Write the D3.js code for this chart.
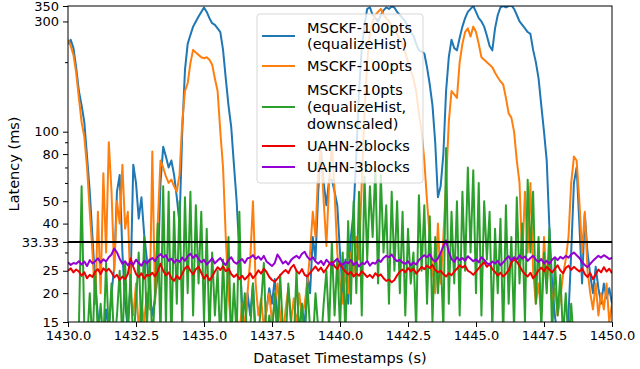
<!DOCTYPE html>
<html><head><meta charset="utf-8">
<script src="https://cdn.jsdelivr.net/npm/d3@7"></script>
<style>body{margin:0;background:#fff}svg{display:block}text{font-family:"DejaVu Sans",sans-serif;fill:#000}</style>
</head><body><svg id="c" width="640" height="369"></svg>
<script>
// sample timing (s)
const tStart = 1430, tStep = 0.1;
const blueVals = [
240,250,230,190,150,130,110,78,55,35,
22,16,13,12,17,14,20,26,55,65,
30,18,14,22,72,60,42,52,36,28,
20,16,19,24,60,86,78,70,75,65,
52,40,100,185,240,262,285,300,315,330,
345,330,310,295,290,280,270,226,170,130,
105,72,50,30,18,13,20,16,22,13,
12,12,14,17,21,18,23,16,12,13,
15,12,14,12,16,13,18,14,24,20,
35,28,55,84,60,48,62,62,55,48,
30,20,28,18,35,45,80,150,230,290,
340,345,320,310,300,320,335,345,340,348,
345,330,320,310,300,285,270,260,240,225,
222,218,190,160,130,90,52,58,80,150,
210,250,230,225,255,285,310,330,340,350,
330,310,300,285,260,235,225,280,320,345,
350,345,350,352,340,320,300,290,280,270,
265,226,200,170,130,100,75,38,22,16,
13,14,13,12,16,30,60,70,40,22,
44,30,24,20,26,21,18,22,19,21,
18];
const orangeVals = [
250,235,215,180,140,110,95,70,45,30,
18,45,20,66,30,90,55,25,50,40,
72,38,45,20,16,22,14,18,15,20,
17,82,18,40,75,70,64,60,62,58,
55,65,110,150,162,198,226,220,215,210,
208,210,205,195,170,150,100,70,35,20,
14,12,16,13,18,14,20,28,50,22,
16,19,14,17,20,15,18,22,16,13,
17,21,15,19,14,20,16,18,22,30,
45,35,70,84,50,32,60,90,55,30,
22,18,25,20,30,24,35,28,60,120,
200,270,300,320,330,340,320,310,300,290,
280,265,250,240,220,200,185,170,150,120,
100,75,50,35,25,20,40,22,35,60,
110,150,145,140,200,240,270,280,258,285,
270,240,210,205,200,195,190,180,172,165,
160,140,120,115,100,75,60,28,55,30,
60,25,18,22,16,35,22,30,18,21,
16,19,24,28,35,60,78,75,50,30,
45,25,20,17,22,16,20,17,22,15,
18];
const greenVals = [
12,12,12,12,14,58,14,12,20,12,
25,13,18,12,27,13,22,12,16,25,
12,27,14,24,12,18,30,13,35,14,
28,12,20,40,13,58,15,55,12,45,
18,50,14,52,20,55,16,48,22,45,
15,38,13,30,16,25,12,28,14,35,
12,22,13,45,14,20,12,14,22,12,
13,18,27,12,16,13,20,12,24,14,
12,22,15,12,25,13,18,12,22,14,
12,20,14,12,18,25,14,33,16,28,
14,30,13,41,18,50,20,55,16,64,
28,58,35,70,22,65,30,48,18,55,
25,50,20,45,16,38,22,30,14,53,
25,48,18,43,15,35,20,30,14,85,
18,45,22,50,16,55,25,70,30,68,
20,60,16,50,28,45,14,38,20,42,
13,48,18,35,14,52,22,40,15,62,
30,55,18,35,14,30,20,38,13,28,
16,24,13,20,12,18,12,12,12,12,
12,12,12,12,12,12,12,12,12,12,
12];
const redVals = [
25.0,25.6,24.6,25.3,24.8,23.8,24.6,23.2,24.0,23.5,
24.8,25.4,24.2,25.6,24.9,25.5,24.6,23.4,24.0,22.8,
23.6,23.0,24.2,28.3,26.0,24.2,23.5,24.4,23.1,24.0,
23.8,24.5,23.6,24.9,26.8,25.0,23.9,24.6,23.2,22.6,
23.8,23.0,24.3,25.6,26.2,25.0,24.1,25.4,26.0,24.5,
23.1,24.0,22.7,23.6,24.8,25.9,25.2,26.1,24.9,25.5,
24.2,23.5,24.1,23.0,23.8,22.9,23.6,24.4,23.2,24.0,
25.1,24.3,25.5,24.7,23.5,22.8,22.4,23.1,23.9,24.6,
25.2,24.4,25.8,26.5,25.0,24.3,25.4,24.0,23.6,24.5,
25.3,26.1,25.0,25.8,24.6,25.5,26.6,27.3,26.2,25.4,
26.9,25.6,24.8,24.1,24.7,23.6,24.3,23.8,24.9,24.2,
23.5,24.0,23.3,24.4,23.7,24.1,23.2,22.6,22.9,22.3,
22.8,23.9,24.8,25.3,24.6,25.7,24.9,25.5,24.3,25.1,
26.0,25.4,26.3,25.7,26.5,25.2,24.6,25.0,24.2,23.6,
24.4,23.9,24.8,25.5,26.4,25.8,26.3,25.0,24.6,24.0,
24.8,25.6,26.5,27.2,26.0,26.8,25.4,24.7,23.8,24.5,
23.6,24.3,25.1,27.1,28.0,27.4,26.2,25.0,24.2,23.6,
24.5,23.2,24.0,25.1,25.8,24.9,26.0,25.3,24.6,25.5,
26.4,25.1,24.4,25.7,26.3,25.2,26.0,25.4,24.8,25.6,
24.2,23.5,24.4,23.0,24.1,25.3,24.6,25.9,24.8,25.5,
24.4];
const purpleVals = [
27.2,26.5,27.0,26.8,27.5,26.6,27.4,26.2,27.8,26.9,
27.5,28.3,27.1,28.0,27.4,28.6,29.4,31.2,30.0,28.2,
26.8,27.5,26.4,27.2,26.6,27.9,27.0,26.3,27.6,26.9,
27.8,28.4,27.5,28.8,29.5,28.6,29.2,27.6,28.2,27.1,
27.9,27.3,28.5,27.6,28.9,29.6,28.4,29.3,28.1,27.2,
27.9,26.6,27.4,28.3,26.9,27.7,28.4,27.2,26.5,27.8,
28.6,27.3,26.8,27.5,28.1,27.0,28.3,28.5,29.2,28.1,
28.8,27.9,29.0,27.4,26.8,26.2,27.0,29.4,28.2,26.9,
27.5,26.6,27.8,28.5,29.0,28.3,29.6,30.2,28.7,27.9,
28.6,27.4,26.8,27.6,26.5,27.9,27.1,26.4,27.5,28.2,
27.0,26.6,27.3,26.9,27.8,26.5,27.2,26.1,27.0,26.7,
27.6,26.3,27.1,26.8,27.9,27.3,28.4,29.0,28.6,29.4,
28.2,27.5,27.9,27.1,26.8,27.5,26.4,27.2,26.6,27.8,
28.5,29.2,28.6,29.5,28.0,27.4,28.3,29.8,32.0,33.8,
30.2,28.1,27.3,28.6,27.8,28.4,27.6,28.9,28.2,27.5,
28.0,27.2,28.6,27.9,27.0,26.6,27.4,26.9,27.6,26.4,
27.2,28.1,28.9,27.7,28.6,28.0,29.1,28.3,28.8,27.6,
28.4,29.0,27.9,27.3,28.1,26.9,27.6,26.8,27.9,28.6,
27.8,28.7,28.2,29.0,28.5,29.4,30.0,29.2,28.4,27.2,
26.5,25.9,26.8,27.6,28.3,29.0,28.5,29.2,28.7,28.1,
28.4];
const seriesLabels = [
  ["MSCKF-100pts","(equalizeHist)"],
  ["MSCKF-100pts"],
  ["MSCKF-10pts","(equalizeHist,","downscaled)"],
  ["UAHN-2blocks"],
  ["UAHN-3blocks"]
];
const seriesColors = ["#1f77b4","#ff7f0e","#2ca02c","#ee0000","#9400d3"];
const realTimeLine = 33.33;
const xTicks = [1430,1432.5,1435,1437.5,1440,1442.5,1445,1447.5,1450];
const yTicks = [15,20,25,33.33,40,50,80,100,300,350];
const yMinorTicks = [30,60,70,90,200];

const allSeries = [blueVals, orangeVals, greenVals, redVals, purpleVals];
const svg = d3.select("#c");
const L = 68, R = 612, T = 6, B = 322;
const x = d3.scaleLinear().domain([1430,1450]).range([L,R]);
const y = d3.scaleLog().domain([15,350]).range([B,T]);

svg.append("defs").append("clipPath").attr("id","clip")
  .append("rect").attr("x",L).attr("y",T).attr("width",R-L).attr("height",B-T);

const plot = svg.append("g").attr("clip-path","url(#clip)");
const line = d3.line().x((d,i)=>x(tStart+i*tStep)).y(d=>y(d));
allSeries.forEach((vals,k)=>{
  plot.append("path").datum(vals).attr("d",line)
    .attr("fill","none").attr("stroke",seriesColors[k])
    .attr("stroke-width",2).attr("stroke-linejoin","round");
});
plot.append("line").attr("x1",L).attr("x2",R)
  .attr("y1",y(realTimeLine)).attr("y2",y(realTimeLine))
  .attr("stroke","#000").attr("stroke-width",2);

// axes
const xAxis = d3.axisBottom(x).tickValues(xTicks).tickSize(5).tickPadding(4).tickFormat(d3.format(".1f"));
const gx = svg.append("g").attr("transform",`translate(0,${B})`).call(xAxis);
const yAxis = d3.axisLeft(y).tickValues(yTicks).tickSize(5).tickPadding(4).tickFormat(d=>String(d));
const gy = svg.append("g").attr("transform",`translate(${L},0)`).call(yAxis);
const yMinor = d3.axisLeft(y).tickValues(yMinorTicks).tickSize(3).tickFormat("");
const gym = svg.append("g").attr("transform",`translate(${L},0)`).call(yMinor);
[gx,gy,gym].forEach(g=>{
  g.select(".domain").remove();
  g.selectAll(".tick line").attr("stroke","#000").attr("stroke-width",1);
  g.selectAll(".tick text").style("font-family","'DejaVu Sans',sans-serif").style("font-size","13px").attr("fill","#000");
});

svg.append("rect").attr("x",L).attr("y",T).attr("width",R-L).attr("height",B-T)
  .attr("fill","none").attr("stroke","#000").attr("stroke-width",1);

svg.append("text").attr("x",(L+R)/2).attr("y",358).attr("text-anchor","middle")
  .attr("dominant-baseline","central").style("font-size","14.5px").text("Dataset Timestamps (s)");
svg.append("text").attr("transform",`translate(14,${(T+B)/2}) rotate(-90)`).attr("text-anchor","middle")
  .attr("dominant-baseline","central").style("font-size","14.5px").text("Latency (ms)");

// legend
const lg = svg.append("g");
lg.append("rect").attr("x",257).attr("y",14).attr("width",166).attr("height",169).attr("rx",3)
  .attr("fill","#fff").attr("fill-opacity",0.8).attr("stroke","#cccccc").attr("stroke-opacity",0.8);
const lineH = 16.8;
const handleY = [36, 66, 107, 146, 167];
seriesLabels.forEach((lines,k)=>{
  const cy = handleY[k];
  lg.append("line").attr("x1",262).attr("x2",295).attr("y1",cy).attr("y2",cy)
    .attr("stroke",seriesColors[k]).attr("stroke-width",2);
  const top = cy - (lines.length-1)*lineH/2;
  lines.forEach((s,j)=>{
    lg.append("text").attr("x",307).attr("y",top+j*lineH).attr("dominant-baseline","central")
      .style("font-size","14.5px").text(s);
  });
});
</script></body></html>
